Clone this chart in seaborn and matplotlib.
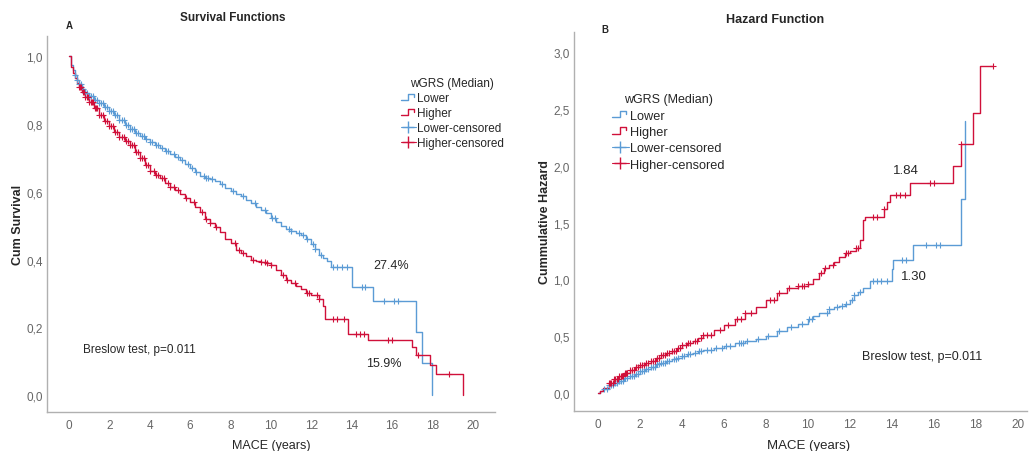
import numpy as np
import matplotlib
matplotlib.use("Agg")
import matplotlib.pyplot as plt
from matplotlib.lines import Line2D
from matplotlib.legend_handler import HandlerBase
import seaborn as sns

# survival functions (step, post)
surv_low_t = [0, 0.1, 0.2, 0.3, 0.4, 0.5, 0.65, 0.8, 1.0, 1.25, 1.5, 1.75, 2.0, 2.25, 2.5,
              2.75, 3.0, 3.25, 3.5, 3.75, 4.0, 4.25, 4.5, 4.75, 5.0, 5.25, 5.5, 5.75, 6.0,
              6.25, 6.5, 6.75, 7.0, 7.25, 7.5, 7.75, 8.0, 8.25, 8.5, 8.75, 9.0, 9.25, 9.5,
              9.75, 10.0, 10.25, 10.5, 10.75, 11.0, 11.25, 11.5, 11.75, 12.0, 12.2, 12.4,
              12.6, 12.8, 13.0, 14.0, 15.05, 17.2, 17.5, 18.0]
surv_low_s = [1.0, 0.975, 0.96, 0.945, 0.93, 0.918, 0.905, 0.893, 0.882, 0.872, 0.862,
              0.852, 0.84, 0.826, 0.812, 0.798, 0.785, 0.775, 0.765, 0.757, 0.748, 0.739,
              0.73, 0.722, 0.713, 0.703, 0.693, 0.682, 0.67, 0.658, 0.646, 0.641, 0.638,
              0.632, 0.622, 0.612, 0.602, 0.595, 0.587, 0.576, 0.566, 0.556, 0.546, 0.537,
              0.522, 0.51, 0.5, 0.49, 0.484, 0.478, 0.472, 0.462, 0.445, 0.43, 0.415, 0.405,
              0.395, 0.378, 0.32, 0.278, 0.186, 0.095, 0.0]
surv_high_t = [0, 0.1, 0.2, 0.3, 0.4, 0.5, 0.65, 0.8, 1.0, 1.25, 1.5, 1.75, 2.0, 2.25, 2.5,
               2.75, 3.0, 3.25, 3.5, 3.75, 4.0, 4.25, 4.5, 4.75, 5.0, 5.25, 5.5, 5.75, 6.0,
               6.25, 6.5, 6.75, 7.0, 7.25, 7.5, 7.75, 8.0, 8.25, 8.5, 8.75, 9.0, 9.25, 9.5,
               9.75, 10.0, 10.25, 10.5, 10.75, 11.0, 11.25, 11.5, 11.75, 12.0, 12.4, 12.6,
               12.7, 13.8, 14.8, 17.0, 17.2, 17.9, 18.2, 19.5]
surv_high_s = [1.0, 0.97, 0.95, 0.935, 0.92, 0.91, 0.895, 0.88, 0.865, 0.848, 0.828, 0.81,
               0.793, 0.778, 0.763, 0.75, 0.737, 0.718, 0.70, 0.68, 0.662, 0.65, 0.64, 0.626,
               0.614, 0.604, 0.594, 0.582, 0.57, 0.555, 0.54, 0.52, 0.508, 0.495, 0.48, 0.462,
               0.45, 0.428, 0.42, 0.41, 0.40, 0.395, 0.392, 0.39, 0.385, 0.37, 0.355, 0.34,
               0.33, 0.322, 0.312, 0.30, 0.295, 0.284, 0.264, 0.225, 0.18, 0.163, 0.142,
               0.118, 0.089, 0.062, 0.0]

# cumulative hazard (step, post)
haz_low_t = [0, 0.1, 0.25, 0.5, 0.75, 1.0, 1.25, 1.5, 1.75, 2.0, 2.25, 2.5, 2.75, 3.0, 3.25,
             3.5, 3.75, 4.0, 4.25, 4.5, 4.75, 5.0, 5.5, 6.0, 6.5, 7.0, 7.5, 8.0, 8.5, 9.0,
             9.5, 10.0, 10.25, 10.5, 11.0, 11.25, 11.5, 11.75, 12.0, 12.2, 12.4, 12.6, 12.95,
             14.0, 14.05, 15.0, 17.27, 17.5]
haz_low_h = [0, 0.015, 0.035, 0.07, 0.09, 0.105, 0.13, 0.15, 0.17, 0.19, 0.21, 0.23, 0.25,
             0.265, 0.28, 0.295, 0.31, 0.325, 0.34, 0.355, 0.365, 0.375, 0.395, 0.415, 0.44,
             0.46, 0.475, 0.505, 0.545, 0.58, 0.61, 0.65, 0.68, 0.70, 0.735, 0.755, 0.765,
             0.785, 0.82, 0.86, 0.89, 0.92, 0.99, 1.09, 1.17, 1.30, 1.71, 2.40]
haz_high_t = [0, 0.1, 0.25, 0.5, 0.75, 1.0, 1.25, 1.5, 1.75, 2.0, 2.25, 2.5, 2.75, 3.0, 3.25,
              3.5, 3.75, 4.0, 4.25, 4.5, 4.75, 5.0, 5.5, 6.0, 6.5, 7.0, 7.5, 8.0, 8.5, 9.0,
              9.5, 10.0, 10.25, 10.5, 10.75, 11.0, 11.25, 11.5, 11.75, 12.0, 12.3, 12.5, 12.6,
              12.7, 13.6, 13.75, 13.9, 14.85, 16.9, 17.27, 17.85, 18.2, 18.8]
haz_high_h = [0, 0.02, 0.045, 0.09, 0.12, 0.15, 0.175, 0.2, 0.225, 0.245, 0.265, 0.285,
              0.305, 0.33, 0.35, 0.37, 0.395, 0.42, 0.44, 0.46, 0.485, 0.51, 0.555, 0.60,
              0.65, 0.705, 0.755, 0.815, 0.88, 0.925, 0.945, 0.96, 1.0, 1.06, 1.1, 1.13, 1.15,
              1.2, 1.23, 1.25, 1.28, 1.35, 1.52, 1.55, 1.62, 1.68, 1.74, 1.85, 2.0, 2.19,
              2.47, 2.88, 2.88]

# censoring times per group
cens_low = [0.3, 0.4, 0.5, 0.6, 0.7, 0.8, 0.9, 1.0, 1.1, 1.2, 1.3, 1.4, 1.5, 1.6, 1.7, 1.8,
            1.9, 2.0, 2.1, 2.2, 2.3, 2.4, 2.5, 2.6, 2.7, 2.8, 2.9, 3.0, 3.1, 3.2, 3.3, 3.4,
            3.6, 3.7, 3.8, 4.0, 4.1, 4.3, 4.4, 4.6, 4.8, 4.9, 5.2, 5.4, 5.6, 5.9, 6.1, 6.3,
            6.7, 6.8, 6.9, 7.1, 7.6, 8.1, 8.6, 9.2, 9.7, 10.05, 10.2, 10.9, 11.0, 11.4, 11.6,
            11.8, 12.1, 12.2, 12.5, 13.1, 13.3, 13.5, 13.75, 14.5, 14.65, 15.6, 16.1, 16.3]
cens_high = [0.5, 0.55, 0.6, 0.7, 0.75, 0.8, 0.9, 0.95, 1.0, 1.1, 1.15, 1.2, 1.3, 1.35, 1.4,
             1.5, 1.6, 1.7, 1.8, 1.9, 2.0, 2.1, 2.2, 2.3, 2.4, 2.5, 2.6, 2.7, 2.8, 2.9, 3.0,
             3.1, 3.2, 3.3, 3.4, 3.5, 3.6, 3.7, 3.8, 3.9, 4.0, 4.2, 4.3, 4.4, 4.6, 4.7, 4.9,
             5.0, 5.2, 5.4, 5.8, 6.2, 6.6, 6.8, 7.0, 7.3, 8.2, 8.4, 8.6, 9.1, 9.5, 9.7, 9.8,
             10.0, 10.6, 10.8, 11.2, 11.8, 11.9, 12.3, 12.4, 13.1, 13.3, 13.6, 14.2, 14.4,
             14.6, 15.8, 16.0, 17.3, 18.8]

groups = ["Lower", "Higher"]
BLUE = "#5b9bd5"
RED = "#d0103a"


class StepHandler(HandlerBase):
    def create_artists(self, legend, orig_handle, xd, yd, width, height, fontsize, trans):
        x = np.array([0, 0.5, 0.5, 0.85, 0.85]) * width - xd
        y = np.array([0.15, 0.15, 0.85, 0.85, 0.55]) * height - yd
        ln = Line2D(x, y, color=orig_handle.get_color(), lw=1.0)
        ln.set_transform(trans)
        return [ln]


def step_at(t, v, c):
    idx = np.searchsorted(t, c, side="right") - 1
    return np.asarray(v)[idx]


def draw_curve(ax, t, v, cens, color):
    sns.lineplot(x=t, y=v, ax=ax, drawstyle="steps-post", estimator=None, sort=False,
                 color=color, lw=1.0)
    sns.scatterplot(x=cens, y=step_at(t, v, cens), ax=ax, marker="+", s=18,
                    linewidth=0.8, color=color, zorder=3)


def style_axes(ax):
    sns.despine(ax=ax)
    for sp in ["left", "bottom"]:
        ax.spines[sp].set_color("#b0b0b0")
        ax.spines[sp].set_linewidth(1.0)
    ax.tick_params(length=0, labelsize=8.5, colors="#666666")
    ax.tick_params(axis="x", pad=5)
    ax.tick_params(axis="y", pad=3)
    ax.set_xticks(range(0, 21, 2))


sns.set_style("white")
plt.rcParams["font.family"] = ["Liberation Sans", "DejaVu Sans"]

fig = plt.figure(figsize=(10.29, 4.52), dpi=100)
ax1 = fig.add_axes([0.0457, 0.0863, 0.4353, 0.8317])
ax2 = fig.add_axes([0.558, 0.0885, 0.44, 0.8385])

# panel A
draw_curve(ax1, surv_low_t, surv_low_s, cens_low, BLUE)
draw_curve(ax1, surv_high_t, surv_high_s, cens_high, RED)
ax1.set_xlim(-1.09, 21.1)
ax1.set_ylim(-0.05, 1.06)
ax1.set_yticks([0, 0.2, 0.4, 0.6, 0.8, 1.0])
ax1.set_yticklabels(["0,0", "0,2", "0,4", "0,6", "0,8", "1,0"])
style_axes(ax1)
ax1.set_xlabel("MACE (years)", fontsize=9, labelpad=6)
ax1.set_ylabel("Cum Survival", fontsize=9, fontweight="bold", labelpad=2)
ax1.text(15.05, 0.376, "27.4%", fontsize=9)
ax1.text(14.7, 0.086, "15.9%", fontsize=9)
ax1.text(0.7, 0.127, "Breslow test, p=0.011", fontsize=8.5)
fig.text(233 / 1029, 1 - 18 / 452, "Survival Functions", ha="center", va="center",
         fontsize=8.5, fontweight="bold")
fig.text(66 / 1029, 1 - 26 / 452, "A", ha="left", va="center", fontsize=7, fontweight="bold")

# panel B
draw_curve(ax2, haz_low_t, haz_low_h, cens_low, BLUE)
draw_curve(ax2, haz_high_t, haz_high_h, cens_high, RED)
ax2.set_xlim(-1.14, 20.43)
ax2.set_ylim(-0.16, 3.18)
ax2.set_yticks([0, 0.5, 1.0, 1.5, 2.0, 2.5, 3.0])
ax2.set_yticklabels(["0,0", "0,5", "1,0", "1,5", "2,0", "2,5", "3,0"])
style_axes(ax2)
ax2.set_xlabel("MACE (years)", fontsize=9.5, labelpad=6)
ax2.xaxis.set_label_coords(0.517, -0.075)
ax2.set_ylabel("Cummulative Hazard", fontsize=9, fontweight="bold", labelpad=2)
ax2.text(14.65, 1.94, "1.84", ha="center", fontsize=9.5)
ax2.text(14.45, 1.0, "1.30", fontsize=9.5)
ax2.text(12.55, 0.3, "Breslow test, p=0.011", fontsize=9)
fig.text(775 / 1029, 1 - 20 / 452, "Hazard Function", ha="center", va="center",
         fontsize=9, fontweight="bold")
fig.text(601 / 1029, 1 - 30 / 452, "B", ha="left", va="center", fontsize=7, fontweight="bold")

# legends
handles = [Line2D([], [], color=BLUE), Line2D([], [], color=RED),
           Line2D([], [], color=BLUE, marker="+", markersize=9, lw=0.8),
           Line2D([], [], color=RED, marker="+", markersize=9, lw=0.8)]
labels = [groups[0], groups[1], groups[0] + "-censored", groups[1] + "-censored"]
hmap = {handles[0]: StepHandler(), handles[1]: StepHandler()}
ax1.legend(handles, labels, handler_map=hmap, title="wGRS (Median)",
           loc="upper left", bbox_to_anchor=(0.771, 0.912), frameon=False, fontsize=8.5,
           title_fontsize=8.5, handlelength=1.3, handletextpad=0.05,
           labelspacing=0.24, borderpad=0.2)
ax2.legend(handles, labels, handler_map=hmap, title="wGRS (Median)",
           loc="upper left", bbox_to_anchor=(0.064, 0.862), frameon=False, fontsize=9.2,
           title_fontsize=9, handlelength=1.3, handletextpad=0.1,
           labelspacing=0.34, borderpad=0.2)

fig.savefig("out.png", dpi=100)
